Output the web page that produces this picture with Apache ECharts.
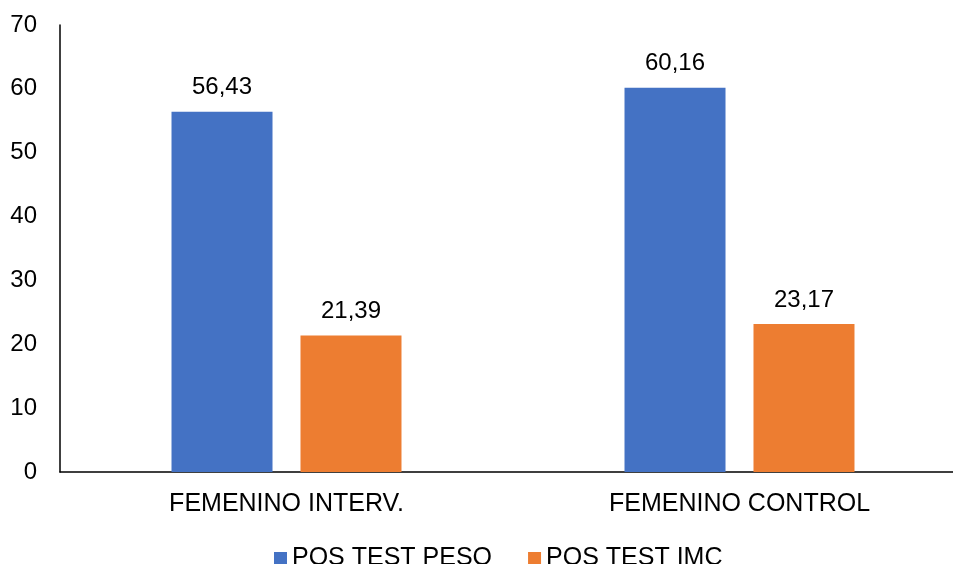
<!DOCTYPE html>
<html>
<head>
<meta charset="utf-8">
<script src="https://cdn.jsdelivr.net/npm/echarts@6/dist/echarts.min.js"></script>
<style>
  html, body { margin: 0; padding: 0; background: #fff; }
  #chart { width: 953px; height: 564px; }
</style>
</head>
<body>
<div id="chart"></div>
<script>
const categories = ['FEMENINO INTERV.', 'FEMENINO CONTROL'];
const pesoValues = [56.43, 60.16];
const imcValues = [21.39, 23.17];
const seriesNames = ['POS TEST PESO', 'POS TEST IMC'];

const chart = echarts.init(document.getElementById('chart'));
const font = 'Liberation Sans, Arial, sans-serif';
const valueLabel = {
  show: true,
  position: 'top',
  distance: 12,
  color: '#000',
  fontSize: 24,
  fontFamily: font,
  formatter: p => p.value.toFixed(2).replace('.', ',')
};

const option = {
  animation: false,
  grid: { left: 60, width: 906, top: 25, bottom: 92, outerBoundsMode: 'none', containLabel: false },
  legend: {
    top: 541,
    left: 269,
    itemWidth: 13,
    itemHeight: 13,
    itemGap: 36,
    icon: 'rect',
    textStyle: { fontSize: 25, fontFamily: font, color: '#000' },
    data: seriesNames
  },
  xAxis: {
    type: 'category',
    data: categories,
    axisLine: { lineStyle: { color: '#000', width: 1.5 } },
    axisTick: { show: false },
    axisLabel: { color: '#000', fontSize: 25, fontFamily: font, margin: 20 }
  },
  yAxis: {
    type: 'value',
    min: 0,
    max: 70,
    interval: 10,
    axisLine: { show: true, lineStyle: { color: '#000', width: 1.5 } },
    axisTick: { show: false },
    splitLine: { show: false },
    axisLabel: { color: '#000', fontSize: 24, fontFamily: font, margin: 23 }
  },
  series: [
    {
      name: seriesNames[0],
      type: 'bar',
      data: pesoValues,
      barWidth: 101,
      barGap: '27.7%',
      itemStyle: { color: '#4472C4' },
      label: valueLabel
    },
    {
      name: seriesNames[1],
      type: 'bar',
      data: imcValues,
      barWidth: 101,
      barGap: '27.7%',
      itemStyle: { color: '#ED7D31' },
      label: valueLabel
    }
  ]
};
chart.setOption(option);
</script>
</body>
</html>
